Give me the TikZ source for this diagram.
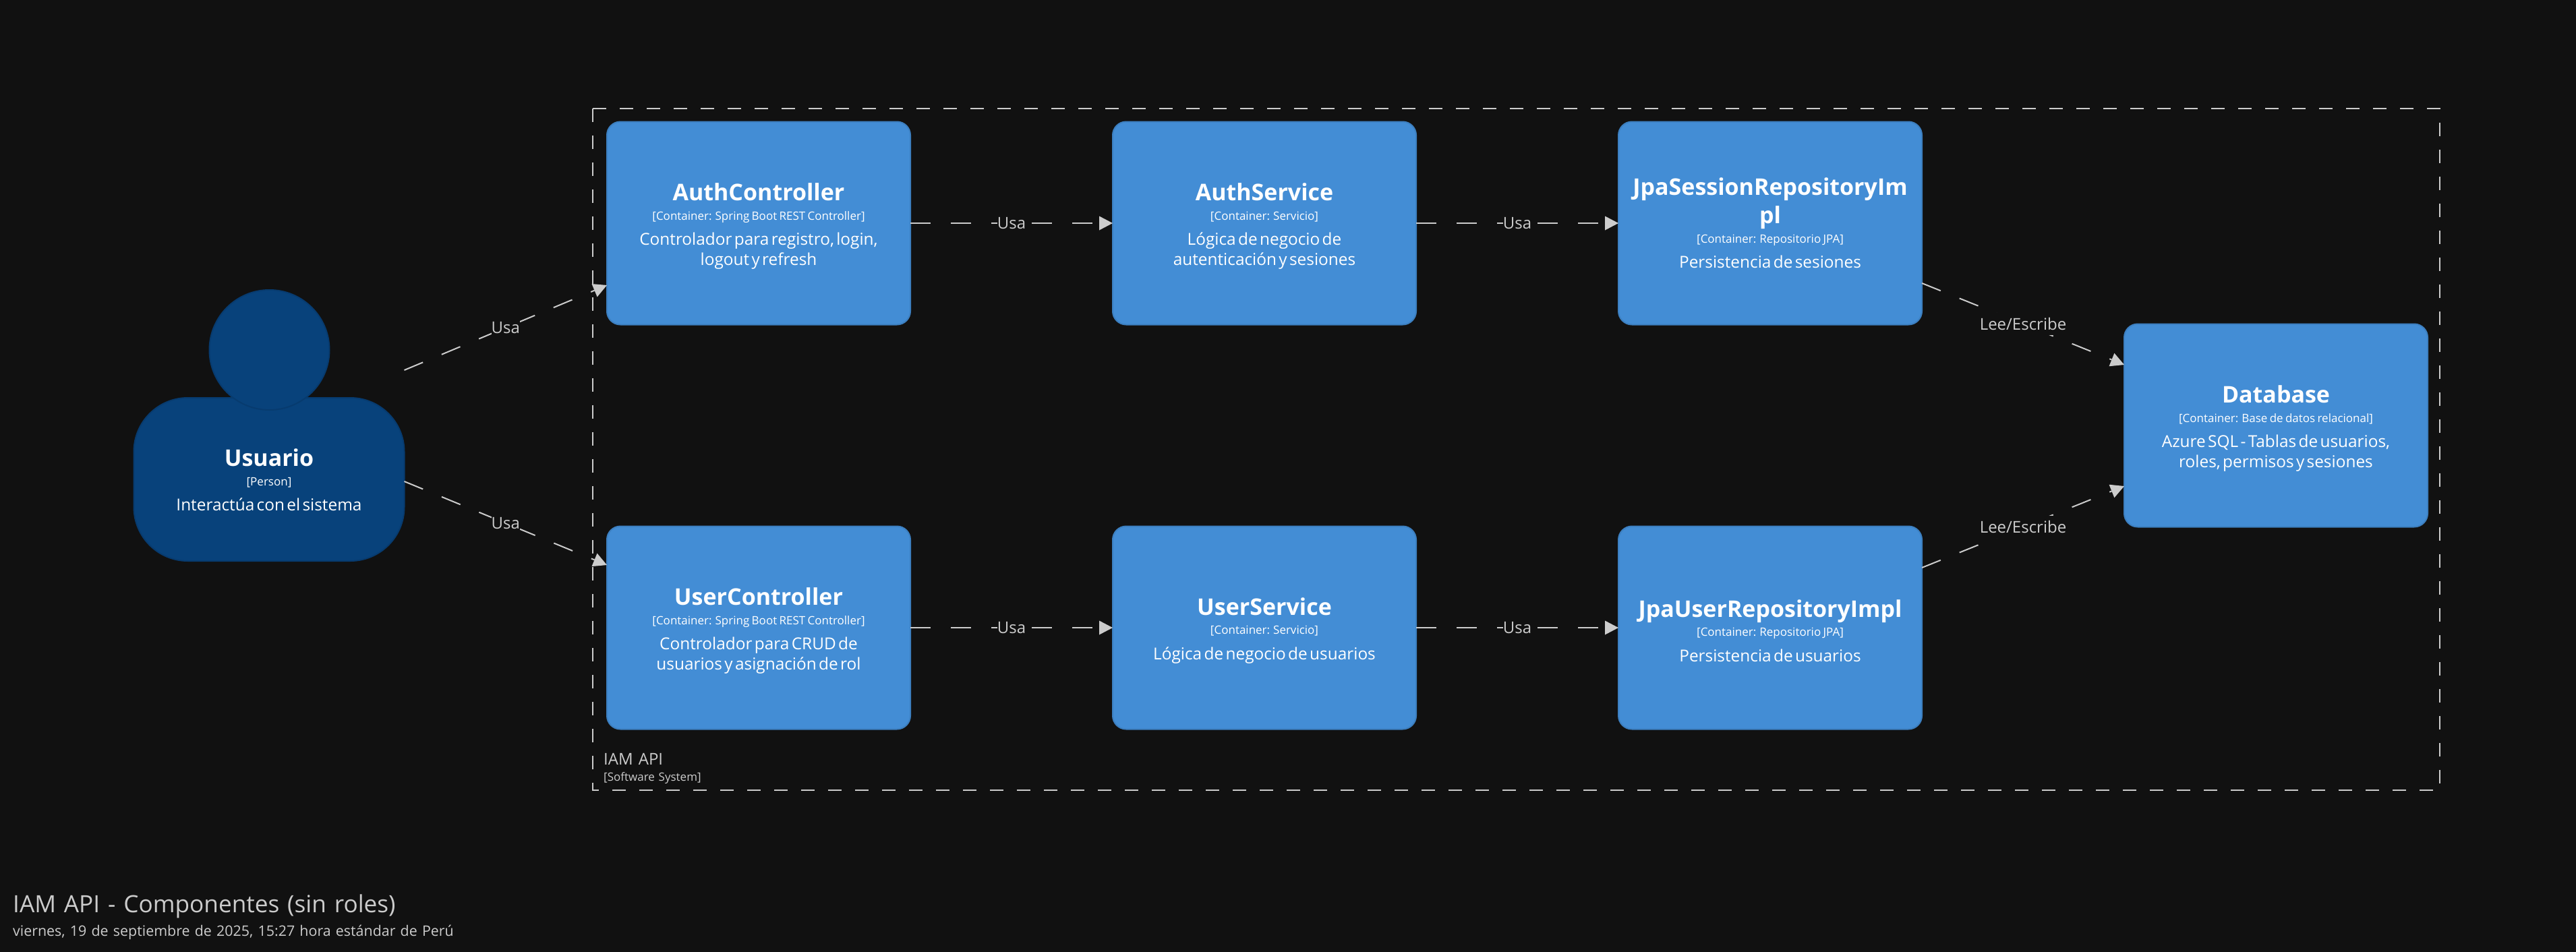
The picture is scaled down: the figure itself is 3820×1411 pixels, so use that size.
\documentclass[tikz,border=0pt]{standalone}
\usepackage{fontspec}
\setmainfont{Open Sans}[WordSpace=1.3]
\usetikzlibrary{arrows.meta}
\definecolor{bgc}{HTML}{111111}
\definecolor{boxc}{HTML}{438DD5}
\definecolor{boxb}{HTML}{3C7FC0}
\definecolor{perc}{HTML}{08427B}
\definecolor{perb}{HTML}{073B6F}
\definecolor{linec}{HTML}{CCCCCC}
\newcommand{\eltext}[4][34.5pt]{{\fontsize{34}{42}\selectfont\bfseries\rule{0pt}{#1}#2\par}\vspace{6.5pt}{\fontsize{17}{22}\selectfont #3\par}\vspace{8pt}{\fontsize{24.4}{29.5}\selectfont #4\par}}
\tikzset{
  x=1pt,y=-1pt,
  elem/.style={rectangle,rounded corners=20pt,fill=boxc,draw=boxb,line width=2pt,outer sep=0pt,inner sep=0pt,
    minimum width=450pt,minimum height=301pt,text width=430pt,align=center,text=white},
  person/.style={elem,fill=perc,draw=perb,rounded corners=80pt,minimum width=401pt,minimum height=242pt,text width=390pt},
  personhead/.style={circle,fill=perc,draw=perb,line width=2pt,minimum size=178pt,inner sep=0pt},
  conn/.style={draw=linec,line width=2pt,dash pattern=on 30pt off 30pt,
    -{Triangle[length=20pt,width=21pt,fill=linec,line width=0pt]}},
  lbl/.style={fill=bgc,inner sep=0pt,text=linec,font=\fontsize{24}{29}\selectfont,text height=25pt,text depth=8pt},
  freetext/.style={text=linec,inner sep=0pt,anchor=base west},
}
\begin{document}
\begin{tikzpicture}
\useasboundingbox (0,0) rectangle (3820,1411);
\fill[bgc] (-5,-5) rectangle (3825,1416);

\draw[linec,line width=2pt,dash pattern=on 20pt off 20pt] (879,161) rectangle (3618,1172);
\node[freetext,font=\fontsize{24}{29}\selectfont] (sysname) at (895,1134) {IAM API};
\node[freetext,font=\fontsize{17}{20}\selectfont] (systype) at (895,1158) {[Software System]};

\node[person] (usuario) at (399,711) {\eltext[28pt]{Usuario}{[Person]}{Interactúa con el sistema}};
\node[personhead] (head) at (399.5,519) {};

\node[elem] (authc) at (1125,331) {\eltext{AuthController}{[Container: Spring Boot REST Controller]}{Controlador para registro, login,\\logout y refresh}};
\node[elem] (auths) at (1875,331) {\eltext{AuthService}{[Container: Servicio]}{Lógica de negocio de\\autenticación y sesiones}};
\node[elem] (jpas) at (2625,331) {\eltext[26pt]{JpaSessionRepositoryIm\\pl}{[Container: Repositorio JPA]}{Persistencia de sesiones}};
\node[elem] (userc) at (1125,931) {\eltext{UserController}{[Container: Spring Boot REST Controller]}{Controlador para CRUD de\\usuarios y asignación de rol}};
\node[elem] (users) at (1875,931) {\eltext{UserService}{[Container: Servicio]}{Lógica de negocio de usuarios}};
\node[elem] (jpau) at (2625,931) {\eltext{JpaUserRepositoryImpl}{[Container: Repositorio JPA]}{Persistencia de usuarios}};
\node[elem] (db) at (3375,631) {\eltext{Database}{[Container: Base de datos relacional]}{Azure SQL - Tablas de usuarios,\\roles, permisos y sesiones}};

\draw[conn] ([yshift=162pt]usuario.east) -- node[lbl]{Usa} ([yshift=-92pt]authc.west);
\draw[conn] ([yshift=-3pt]usuario.east) -- node[lbl]{Usa} ([yshift=93pt]userc.west);
\draw[conn] (authc.east) -- node[lbl]{Usa} (auths.west);
\draw[conn] (auths.east) -- node[lbl]{Usa} (jpas.west);
\draw[conn] (userc.east) -- node[lbl]{Usa} (users.west);
\draw[conn] (users.east) -- node[lbl]{Usa} (jpau.west);
\draw[conn] ([yshift=-89pt]jpas.east) -- node[lbl]{Lee/Escribe} ([yshift=90pt]db.west);
\draw[conn] ([yshift=89pt]jpau.east) -- node[lbl]{Lee/Escribe} ([yshift=-90pt]db.west);

\node[freetext,font=\fontsize{35.2}{43}\selectfont] (title) at (19,1353) {IAM API - Componentes (sin roles)};
\node[freetext,font=\fontsize{21.4}{29}\selectfont] (date) at (19,1388) {viernes, 19 de septiembre de 2025, 15:27 hora estándar de Perú};
\end{tikzpicture}
\end{document}
